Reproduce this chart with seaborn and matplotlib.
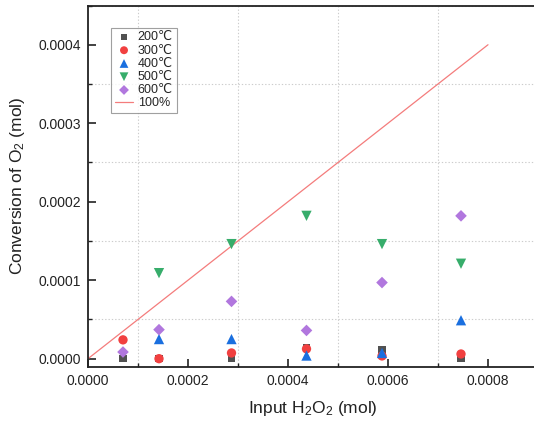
import matplotlib
matplotlib.use("Agg")
import matplotlib.pyplot as plt
import seaborn as sns
import pandas as pd
import numpy as np
from matplotlib.ticker import MultipleLocator

sns.set_theme(style="white")
plt.rcParams['font.family'] = ['Liberation Sans', 'DejaVu Sans']
plt.rcParams['mathtext.fontset'] = 'custom'
plt.rcParams['mathtext.rm'] = 'Liberation Sans'
plt.rcParams['mathtext.it'] = 'Liberation Sans:italic'

# Data
input_h2o2 = [0.00007, 0.000142, 0.000287, 0.000437, 0.000588, 0.000746]
conv_200 = [0.0, 0.0, 0.0, 0.000014, 0.000011, 0.000001]
conv_300 = [0.000024, 0.0, 0.0000073, 0.0000125, 0.0000035, 0.000006]
conv_400 = [np.nan, 0.000025, 0.000025, 0.000004, 0.0000073, 0.000049]
conv_500 = [np.nan, 0.000109, 0.000146, 0.000182, 0.000146, 0.000121]
conv_600 = [0.0000085, 0.000037, 0.000073, 0.000036, 0.000097, 0.000182]
labels = ["200℃", "300℃", "400℃", "500℃", "600℃"]
line_x = [0.0, 0.0008]
line_y = [0.0, 0.0004]

series = [conv_200, conv_300, conv_400, conv_500, conv_600]
colors = ["#515151", "#F14040", "#1A6FDF", "#37AD6B", "#B177DE"]
markers = ["s", "o", "^", "v", "D"]
sizes = [30, 45, 55, 55, 35]

fig = plt.figure(figsize=(5.34, 4.22), dpi=100)
ax = fig.add_axes([88/534, 55.3/422, 450/534, (366.7-5.5)/422])

for vals, lab, c, m, s in zip(series, labels, colors, markers, sizes):
    df = pd.DataFrame({"x": input_h2o2, "y": vals}).dropna()
    sns.scatterplot(data=df, x="x", y="y", color=c, marker=m, s=s,
                    edgecolor="none", label=lab, ax=ax, zorder=3)

sns.lineplot(x=line_x, y=line_y, color="#F47C7C", linewidth=0.9,
             label="100%", ax=ax, zorder=2)

ax.set_xlim(0, 0.0009)
ax.set_ylim(-0.0000102, 0.00045)
ax.xaxis.set_minor_locator(MultipleLocator(0.0001))
ax.yaxis.set_minor_locator(MultipleLocator(0.00005))
ax.set_xticks([0, 0.0002, 0.0004, 0.0006, 0.0008])
ax.set_xticklabels(["0.0000", "0.0002", "0.0004", "0.0006", "0.0008"])
ax.set_yticks([0, 0.0001, 0.0002, 0.0003, 0.0004])
ax.set_yticklabels(["0.0000", "0.0001", "0.0002", "0.0003", "0.0004"])
ax.tick_params(which="major", direction="in", length=6, width=1.2,
               labelsize=10, color="#222222", labelcolor="#222222", pad=5)
ax.tick_params(which="minor", direction="in", length=3, width=1.0, color="#222222")
ax.tick_params(axis="both", which="both", left=True, bottom=True)
ax.grid(which="minor", linestyle=(0, (1.2, 1.8)), color="#cccccc", linewidth=0.8)
ax.grid(which="major", visible=False)
ax.set_axisbelow(True)

for sp in ax.spines.values():
    sp.set_color("#222222")
    sp.set_linewidth(1.3)
ax.spines["right"].set_visible(False)

ax.set_xlabel("Input H$_2$O$_2$ (mol)", fontsize=12.5, color="#222222", labelpad=8)
ax.set_ylabel("Conversion of O$_2$ (mol)", fontsize=12.5, color="#222222", labelpad=8)

leg = ax.legend(loc="upper left", bbox_to_anchor=((111.5-88)/450, 1 - (27.5-5.5)/361.2),
                fontsize=9, frameon=True, fancybox=False, edgecolor="#888888",
                borderpad=0.3, labelspacing=0.1, handletextpad=0.4, handlelength=1.4,
                borderaxespad=0, markerscale=0.85)
leg.get_frame().set_linewidth(0.8)

fig.savefig("out.png", dpi=100)
